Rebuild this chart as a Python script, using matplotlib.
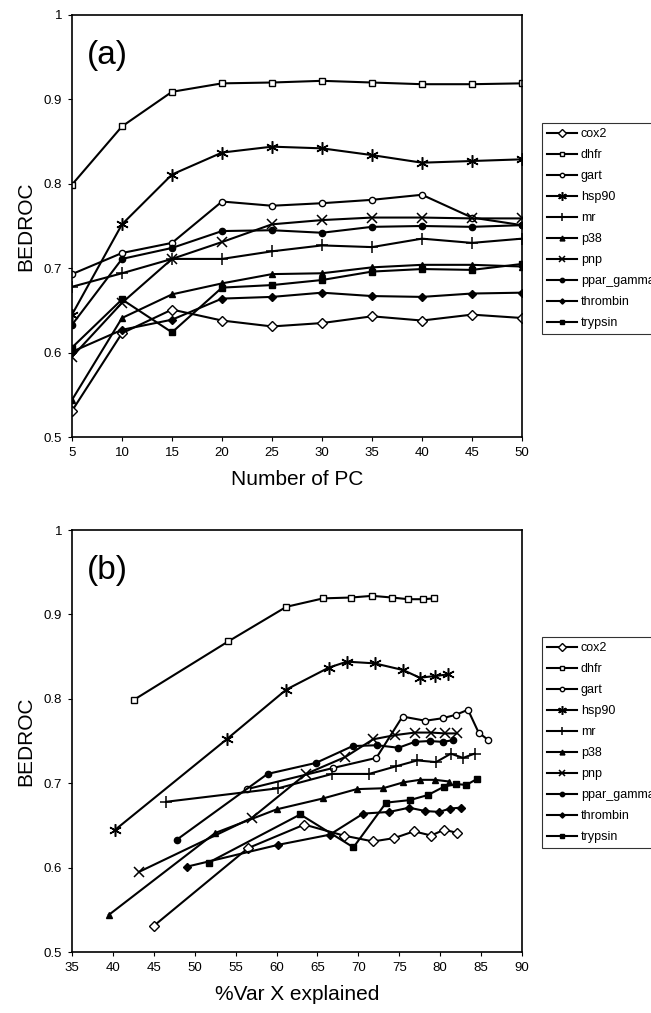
import matplotlib
matplotlib.use("Agg")
import matplotlib.pyplot as plt

plt.rcParams["font.family"] = ["Liberation Sans", "DejaVu Sans"]

# ===========================
# DATA
# ===========================

TARGETS = ["cox2", "dhfr", "gart", "hsp90", "mr", "p38", "pnp",
           "ppar_gamma", "thrombin", "trypsin"]

n_pc = [5, 10, 15, 20, 25, 30, 35, 40, 45, 50]

# BEDROC vs number of PC (panel a)
bedroc_pc = {
    "cox2":       [0.531, 0.623, 0.651, 0.638, 0.631, 0.635, 0.643, 0.638, 0.645, 0.641],
    "dhfr":       [0.799, 0.868, 0.909, 0.919, 0.920, 0.922, 0.920, 0.918, 0.918, 0.919],
    "gart":       [0.693, 0.718, 0.730, 0.779, 0.774, 0.777, 0.781, 0.787, 0.760, 0.751],
    "hsp90":      [0.645, 0.752, 0.811, 0.837, 0.844, 0.842, 0.834, 0.825, 0.827, 0.829],
    "mr":         [0.678, 0.694, 0.711, 0.711, 0.720, 0.727, 0.725, 0.735, 0.730, 0.735],
    "p38":        [0.544, 0.641, 0.669, 0.682, 0.693, 0.694, 0.701, 0.704, 0.704, 0.702],
    "pnp":        [0.595, 0.659, 0.711, 0.731, 0.752, 0.757, 0.760, 0.760, 0.759, 0.759],
    "ppar_gamma": [0.633, 0.711, 0.724, 0.744, 0.745, 0.742, 0.749, 0.750, 0.749, 0.751],
    "thrombin":   [0.601, 0.627, 0.639, 0.664, 0.666, 0.671, 0.667, 0.666, 0.670, 0.671],
    "trypsin":    [0.606, 0.663, 0.624, 0.677, 0.680, 0.686, 0.696, 0.699, 0.698, 0.705],
}

# %Var X explained for each target (panel b), same PC order
var_x = {
    "cox2":       [45.0, 56.5, 63.4, 68.2, 71.8, 74.4, 76.8, 78.9, 80.5, 82.1],
    "dhfr":       [42.6, 54.1, 61.2, 65.7, 69.1, 71.7, 74.1, 76.1, 77.9, 79.3],
    "gart":       [56.4, 66.9, 72.2, 75.4, 78.2, 80.3, 81.9, 83.4, 84.7, 85.9],
    "hsp90":      [40.3, 53.9, 61.2, 66.4, 68.6, 72.0, 75.5, 77.5, 79.4, 81.0],
    "mr":         [46.5, 60.2, 66.8, 71.3, 74.6, 77.2, 79.5, 81.3, 82.8, 84.2],
    "p38":        [39.5, 52.5, 60.0, 65.7, 69.8, 73.0, 75.5, 77.5, 79.4, 81.1],
    "pnp":        [43.2, 57.0, 63.6, 68.4, 71.8, 74.5, 76.9, 78.9, 80.6, 82.0],
    "ppar_gamma": [47.8, 58.9, 64.8, 69.3, 72.3, 74.9, 76.9, 78.7, 80.3, 81.6],
    "thrombin":   [49.0, 60.2, 66.5, 70.6, 73.8, 76.2, 78.2, 79.9, 81.2, 82.5],
    "trypsin":    [51.7, 62.9, 69.4, 73.4, 76.3, 78.5, 80.5, 81.9, 83.2, 84.5],
}

# ===========================
# STYLE
# ===========================

STYLES = {
    "cox2":       dict(marker="D", ms=5.5, mfc="white", mew=1.0),
    "dhfr":       dict(marker="s", ms=4.5, mfc="white", mew=1.0),
    "gart":       dict(marker="o", ms=4.5, mfc="white", mew=1.0),
    "hsp90":      dict(marker=(6, 2, 0), ms=9, mew=1.1),
    "mr":         dict(marker="+", ms=9, mew=1.1),
    "p38":        dict(marker="^", ms=5),
    "pnp":        dict(marker="x", ms=7, mew=1.1),
    "ppar_gamma": dict(marker="o", ms=4.5),
    "thrombin":   dict(marker="D", ms=3.8),
    "trypsin":    dict(marker="s", ms=5),
}

fig = plt.figure(figsize=(6.51, 10.13), dpi=100)
ax_a = fig.add_axes([0.1106, 0.5686, 0.6912, 0.4166])
ax_b = fig.add_axes([0.1106, 0.0602, 0.6912, 0.4166])


def draw_panel(ax, xdata, label, xlim, xticks, xlabel, legend_top):
    for t in TARGETS:
        xs = xdata[t] if isinstance(xdata, dict) else xdata
        ax.plot(xs, bedroc_pc[t], color="black", lw=1.5, mec="black",
                label=t, **STYLES[t])
    ax.set_xlim(*xlim)
    ax.set_ylim(0.5, 1.0)
    ax.set_xticks(xticks)
    ax.set_yticks([0.5, 0.6, 0.7, 0.8, 0.9, 1.0])
    ax.set_yticklabels(["0.5", "0.6", "0.7", "0.8", "0.9", "1"])
    ax.tick_params(direction="out", length=3, width=0.8, labelsize=9.5,
                   top=False, right=False, pad=4)
    for sp in ax.spines.values():
        sp.set_linewidth(1.2)
    ax.set_ylabel("BEDROC", fontsize=15, labelpad=6)
    ax.set_xlabel(xlabel, fontsize=15, labelpad=8)
    ax.text(0.033, 0.905, label, transform=ax.transAxes, fontsize=24,
            ha="left", va="center")
    leg = ax.legend(loc="upper left", bbox_to_anchor=(0.8326, legend_top),
                    bbox_transform=fig.transFigure, frameon=True,
                    fancybox=False, edgecolor="black", fontsize=9,
                    handlelength=2.4, labelspacing=0.72, borderpad=0.4,
                    handletextpad=0.3, borderaxespad=0, markerscale=0.7)
    leg.get_frame().set_linewidth(0.8)


draw_panel(ax_a, n_pc, "(a)", (5, 50), n_pc, "Number of PC", 0.8786)
draw_panel(ax_b, var_x, "(b)", (35, 90), list(range(35, 91, 5)),
           "%Var X explained", 0.3712)

fig.savefig("out.png", dpi=100)
